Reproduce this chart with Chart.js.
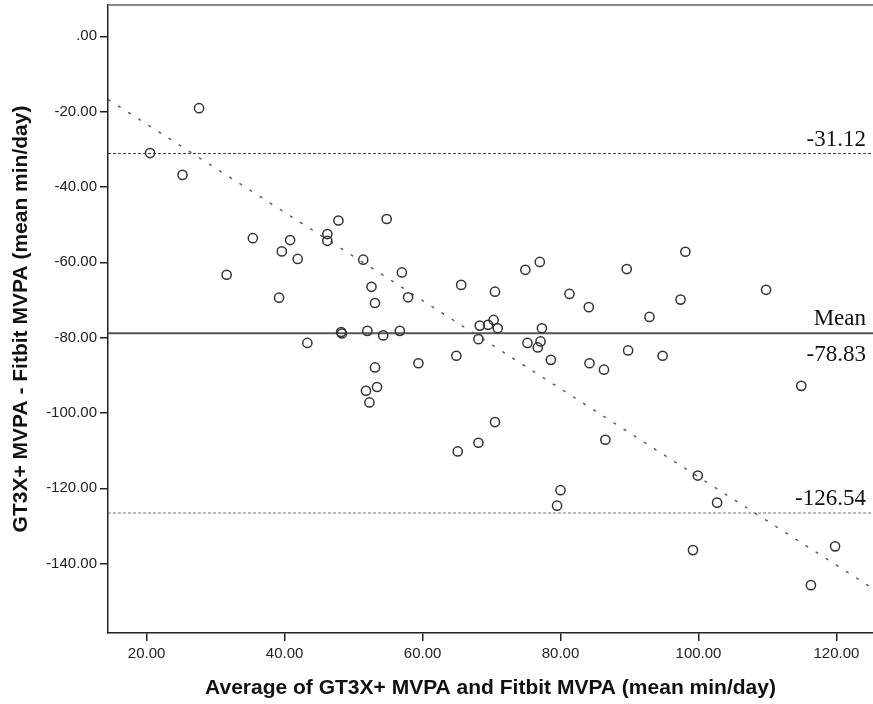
<!DOCTYPE html>
<html>
<head>
<meta charset="utf-8">
<title>Bland-Altman GT3X+ vs Fitbit</title>
<script src="https://cdn.jsdelivr.net/npm/chart.js@4.4.1/dist/chart.umd.min.js"></script>
<style>
  html, body { margin: 0; padding: 0; background: #fff; }
  #wrap { width: 873px; height: 704px; }
</style>
</head>
<body>
<div id="wrap"><canvas id="grafico"></canvas></div>
<script>
// ===== dados =====
const mediaX = [20.5, 27.6, 25.2, 35.4, 39.6, 40.8, 41.9, 31.6, 39.2, 43.3,
  46.2, 46.2, 47.8, 48.2, 48.3, 51.4, 52.0, 52.6, 53.1, 54.8,
  54.3, 53.1, 51.8, 53.4, 52.3, 57.0, 57.9, 56.7, 59.4, 64.9,
  65.6, 68.1, 68.3, 69.5, 70.3, 70.9, 70.5, 70.5, 68.1, 65.1,
  74.9, 77.0, 81.3, 75.2, 77.1, 76.7, 77.3, 78.6, 84.1, 89.6,
  98.1, 97.4, 92.9, 109.8, 89.8, 94.8, 84.2, 86.3, 114.9, 86.5,
  80.0, 79.5, 99.9, 102.7, 99.2, 119.8, 116.3];
const difY = [-31.0, -19.1, -36.8, -53.6, -57.1, -54.1, -59.1, -63.3, -69.4, -81.4,
  -52.5, -54.3, -48.9, -78.5, -78.9, -59.3, -78.2, -66.5, -70.8, -48.5,
  -79.4, -87.9, -94.1, -93.1, -97.2, -62.7, -69.3, -78.2, -86.8, -84.8,
  -66.0, -80.4, -76.8, -76.6, -75.3, -77.5, -67.8, -102.4, -107.9, -110.2,
  -62.0, -59.9, -68.4, -81.4, -81.0, -82.6, -77.5, -85.9, -71.9, -61.8,
  -57.2, -69.9, -74.5, -67.3, -83.4, -84.8, -86.8, -88.5, -92.8, -107.1,
  -120.5, -124.6, -116.6, -123.8, -136.4, -135.4, -145.7];

// linha de regressão (extremos)
const regX = [14.4, 125.3];
const regY = [-16.75, -146.6];

// limites de concordância e média
const limites = [-31.12, -78.83, -126.54];
const textoAcima = ['-31.12', 'Mean', '-126.54'];
const textoAbaixo = ['', '-78.83', ''];

// eixos
const xRange = [14.4, 125.3];
const yRange = [-158.4, 8.3];
const xTicks = [20, 40, 60, 80, 100, 120];
const xTickLabels = ['20.00', '40.00', '60.00', '80.00', '100.00', '120.00'];
const yTicks = [0, -20, -40, -60, -80, -100, -120, -140];
const yTickLabels = ['.00', '-20.00', '-40.00', '-60.00', '-80.00', '-100.00', '-120.00', '-140.00'];

// ===== estilos =====
const SANS = '"Liberation Sans", Arial, sans-serif';
const SERIF = '"Liberation Serif", "Times New Roman", serif';
const estiloLimite = [
  { cor: '#444', dash: [3, 2], largura: 1.2 },
  { cor: '#555', dash: [], largura: 1.8 },
  { cor: '#777', dash: [3, 2], largura: 1.2 }
];

Chart.defaults.font.family = SANS;
Chart.defaults.color = '#222';

const pontos = mediaX.map((x, i) => ({ x: x, y: difY[i] }));

const datasets = [
  {
    label: 'Diferenças',
    data: pontos,
    pointStyle: 'circle',
    pointRadius: 4.6,
    pointBorderWidth: 1.5,
    pointBorderColor: '#333',
    pointBackgroundColor: 'rgba(0,0,0,0)',
    showLine: false
  },
  {
    label: 'Regressão',
    data: regX.map((x, i) => ({ x: x, y: regY[i] })),
    showLine: true,
    pointRadius: 0,
    borderColor: '#555',
    borderWidth: 1.4,
    borderDash: [3, 9]
  }
];

limites.forEach((v, i) => {
  datasets.push({
    label: textoAcima[i],
    data: [{ x: xRange[0], y: v }, { x: xRange[1], y: v }],
    showLine: true,
    pointRadius: 0,
    borderColor: estiloLimite[i].cor,
    borderWidth: estiloLimite[i].largura,
    borderDash: estiloLimite[i].dash
  });
});

// moldura superior + rótulos das linhas
const pluginRotulos = {
  id: 'rotulos',
  afterDatasetsDraw(chart) {
    const { ctx, chartArea, scales } = chart;
    ctx.save();
    ctx.strokeStyle = '#888';
    ctx.lineWidth = 2;
    ctx.beginPath();
    ctx.moveTo(chartArea.left, chartArea.top);
    ctx.lineTo(chartArea.right, chartArea.top);
    ctx.stroke();

    ctx.fillStyle = '#111';
    ctx.font = '23px ' + SERIF;
    ctx.textAlign = 'right';
    ctx.textBaseline = 'alphabetic';
    const xr = chartArea.right - 7;
    limites.forEach((v, i) => {
      const y = scales.y.getPixelForValue(v);
      if (textoAcima[i]) ctx.fillText(textoAcima[i], xr, y - 8);
      if (textoAbaixo[i]) ctx.fillText(textoAbaixo[i], xr, y + 28);
    });
    ctx.restore();
  }
};

new Chart(document.getElementById('grafico'), {
  type: 'scatter',
  data: { datasets: datasets },
  options: {
    responsive: true,
    maintainAspectRatio: false,
    animation: false,
    layout: { autoPadding: false, padding: { top: 5, right: 0, left: 0, bottom: 0 } },
    plugins: {
      legend: { display: false },
      tooltip: { enabled: false }
    },
    scales: {
      x: {
        type: 'linear',
        min: xRange[0],
        max: xRange[1],
        afterBuildTicks: (s) => { s.ticks = xTicks.map(v => ({ value: v })); },
        afterFit: (s) => { s.height = 71; s.paddingLeft = 0; s.paddingRight = 0; },
        ticks: {
          autoSkip: false,
          maxRotation: 0,
          padding: 4,
          color: '#222',
          font: { size: 15 },
          callback: (v) => xTickLabels[xTicks.indexOf(v)]
        },
        grid: {
          drawOnChartArea: false,
          drawTicks: true,
          tickLength: 8,
          color: '#222',
          lineWidth: 1.5
        },
        border: { display: true, color: '#222', width: 1.5 },
        title: {
          display: true,
          text: 'Average of GT3X+ MVPA and Fitbit MVPA (mean min/day)',
          color: '#111',
          font: { size: 21, weight: 'bold' },
          padding: { top: 0, bottom: 3 }
        }
      },
      y: {
        type: 'linear',
        min: yRange[0],
        max: yRange[1],
        afterBuildTicks: (s) => { s.ticks = yTicks.map(v => ({ value: v })); },
        afterFit: (s) => { s.width = 108; s.paddingTop = 0; s.paddingBottom = 0; },
        ticks: {
          autoSkip: false,
          padding: 3,
          color: '#222',
          font: { size: 15 },
          callback: (v) => yTickLabels[yTicks.indexOf(v)]
        },
        grid: {
          drawOnChartArea: false,
          drawTicks: true,
          tickLength: 8,
          color: '#222',
          lineWidth: 1.5
        },
        border: { display: true, color: '#222', width: 1.5 },
        title: {
          display: true,
          text: 'GT3X+ MVPA - Fitbit MVPA (mean min/day)',
          color: '#111',
          font: { size: 21, weight: 'bold' },
          padding: { top: 9, bottom: 0 }
        }
      }
    }
  },
  plugins: [pluginRotulos]
});
</script>
</body>
</html>
